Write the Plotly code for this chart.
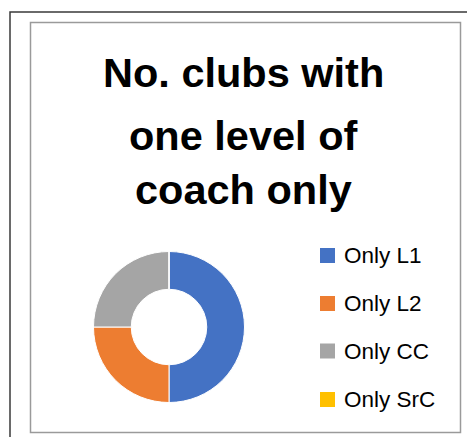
import plotly.graph_objects as go

W, H = 467, 437

labels = ["Only L1", "Only L2", "Only CC", "Only SrC"]
values = [2, 1, 1, 0]
colors = ["#4472C4", "#ED7D31", "#A5A5A5", "#FFC000"]
title_lines = ["No. clubs with", "one level of", "coach only"]

def px_x(x):
    return x / W

def px_y(y):
    return 1 - y / H

fig = go.Figure()

cx, cy, r = 169, 327, 75.5
fig.add_trace(go.Pie(
    labels=labels, values=values, hole=0.5, sort=False,
    direction="clockwise", rotation=0,
    marker=dict(colors=colors, line=dict(color="white", width=1)),
    textinfo="none", hoverinfo="label+value", showlegend=False,
    domain=dict(x=[px_x(cx - r), px_x(cx + r)], y=[px_y(cy + r), px_y(cy - r)]),
))

shapes = [
    # outer dark frame
    dict(type="rect", xref="paper", yref="paper",
         x0=px_x(10), x1=px_x(480), y0=px_y(450), y1=px_y(12),
         line=dict(color="#3a3a3a", width=1.5), fillcolor="rgba(0,0,0,0)"),
    # inner gray frame
    dict(type="rect", xref="paper", yref="paper",
         x0=px_x(30.5), x1=px_x(460.5), y0=px_y(432.5), y1=px_y(22.5),
         line=dict(color="#9a9a9a", width=1.5), fillcolor="rgba(0,0,0,0)"),
]

annotations = []
title_centers = [72, 135, 189]
for line, yc in zip(title_lines, title_centers):
    annotations.append(dict(
        text="<b>" + line + "</b>", xref="paper", yref="paper",
        x=px_x(243), y=px_y(yc), xanchor="center", yanchor="middle",
        showarrow=False, font=dict(family="Liberation Sans, Arial", size=41.5, color="black"),
    ))

leg_y = [255.5, 303.5, 351, 399.5]
for lab, col, yc in zip(labels, colors, leg_y):
    shapes.append(dict(type="rect", xref="paper", yref="paper",
                       x0=px_x(320), x1=px_x(335), y0=px_y(yc + 7.5), y1=px_y(yc - 7.5),
                       line=dict(width=0), fillcolor=col))
    annotations.append(dict(
        text=lab, xref="paper", yref="paper", x=px_x(342), y=px_y(yc),
        xanchor="left", yanchor="middle", showarrow=False,
        font=dict(family="Liberation Sans, Arial", size=22.5, color="black"),
    ))

fig.update_layout(
    width=W, height=H, margin=dict(l=0, r=0, t=0, b=0),
    paper_bgcolor="white", plot_bgcolor="white",
    shapes=shapes, annotations=annotations,
)

fig.write_html("out.html", config={"displayModeBar": False},
               post_script="document.body.style.margin='0';document.body.style.overflow='hidden';")
